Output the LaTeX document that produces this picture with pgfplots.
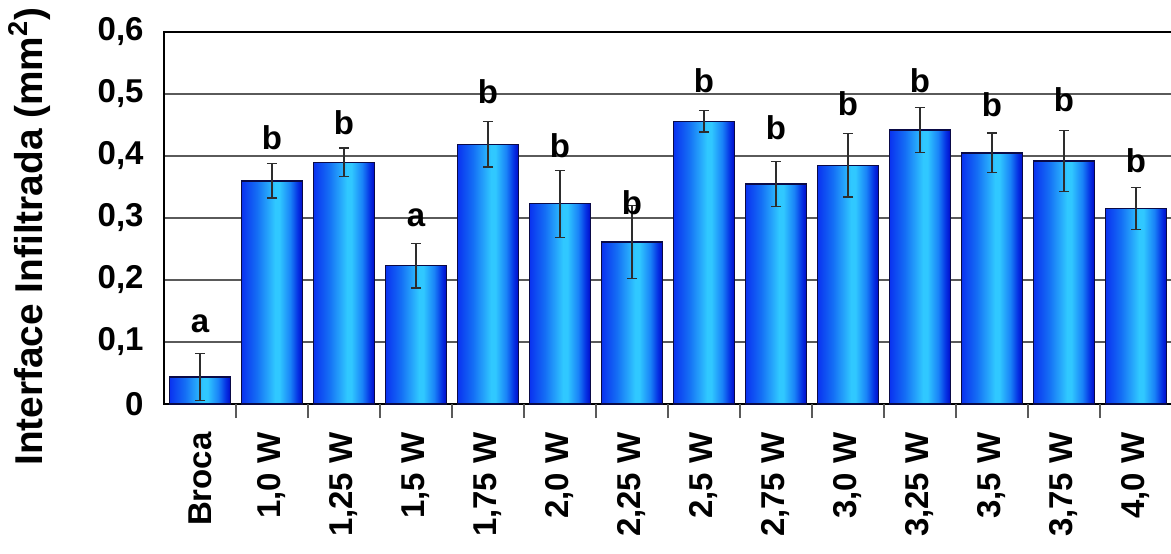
\documentclass[border=0pt]{standalone}
\usepackage{pgfplots}
\usepackage{pgfplotstable}
\pgfplotsset{compat=1.18}
\usepackage{fontspec}
\setmainfont{Liberation Sans}

\definecolor{barEdge}{RGB}{10,10,70}
\definecolor{gridc}{RGB}{90,90,90}
\definecolor{errc}{RGB}{45,45,45}
\definecolor{sA}{RGB}{10,50,240}
\definecolor{sB}{RGB}{20,110,245}
\definecolor{sC}{RGB}{48,200,255}
\definecolor{sD}{RGB}{25,130,248}
\definecolor{sE}{RGB}{5,50,228}
\definecolor{sF}{RGB}{0,10,200}

% horizontal gradient of a bar; the bar spans 25bp..75bp of the shading
\pgfdeclarehorizontalshading{barshade}{100bp}{%
  color(0bp)=(sA); color(25bp)=(sA); color(37.5bp)=(sB);
  color(52.5bp)=(sC); color(56bp)=(sC); color(65bp)=(sD);
  color(71bp)=(sE); color(75bp)=(sF); color(100bp)=(sF)}

% x  mean  sd  letter-y  letter
\pgfplotstableread{
x  y      err    ly     lab
0  0.0435 0.038  0.115  a
1  0.360  0.028  0.411  b
2  0.390  0.023  0.434  b
3  0.223  0.036  0.287  a
4  0.419  0.037  0.485  b
5  0.323  0.054  0.398  b
6  0.261  0.059  0.306  b
7  0.456  0.017  0.503  b
8  0.355  0.036  0.426  b
9  0.385  0.051  0.466  b
10 0.442  0.036  0.502  b
11 0.405  0.032  0.463  b
12 0.392  0.049  0.471  b
13 0.315  0.034  0.373  b
}\data

\begin{document}
\begin{tikzpicture}
\begin{axis}[
  scale only axis,
  width=504pt, height=186pt,
  xmin=-0.5, xmax=13.5,
  ymin=0, ymax=0.6,
  axis line style={black, line width=0.6pt},
  tick pos=left,
  xtick={0,...,13},
  xticklabels={Broca,{1,0 W},{1,25 W},{1,5 W},{1,75 W},{2,0 W},{2,25 W},{2,5 W},{2,75 W},{3,0 W},{3,25 W},{3,5 W},{3,75 W},{4,0 W}},
  x tick label style={rotate=90, anchor=east, inner sep=0pt},
  xticklabel shift=14pt,
  ytick={0,0.1,0.2,0.3,0.4,0.5,0.6},
  yticklabels={0,{0,1},{0,2},{0,3},{0,4},{0,5},{0,6}},
  y tick label style={anchor=east, inner sep=0pt},
  yticklabel shift=10pt,
  major tick length=0pt,
  ticklabel style={font=\fontsize{16.5}{19}\selectfont\bfseries},
  extra x ticks={0.5,1.5,...,12.5},
  extra x tick labels={},
  extra x tick style={
    major tick length=7pt,
    tick align=outside,
    tick style={gridc, line width=0.7pt},
    grid=none},
  ymajorgrids,
  major grid style={gridc, line width=0.6pt},
  ylabel={Interface Infiltrada (mm\textsuperscript{2})},
  ylabel style={font=\fontsize{19.4}{23}\selectfont\bfseries,
    at={(axis description cs:-0.133,0.45)}, anchor=center},
]
% one plot per bar, so that each bar carries its own horizontal gradient
\pgfplotsinvokeforeach{0,...,13}{
  \addplot[ybar, bar width=30.5pt, draw=barEdge, line width=0.7pt,
    shading=barshade,
    restrict x to domain=#1:#1,
    error bars/.cd, y dir=both, y explicit,
    error bar style={errc, line width=0.7pt},
    error mark options={rotate=90, mark size=2.6pt, errc, line width=0.7pt}]
    table[x=x, y=y, y error=err] {\data};
}
\addplot[only marks, mark=none,
  point meta=explicit symbolic,
  nodes near coords,
  nodes near coords style={anchor=base, inner sep=0pt, black,
    font=\fontsize{16.5}{19}\selectfont\bfseries}]
  table[x=x, y=ly, meta=lab] {\data};
\end{axis}
\pgfresetboundingbox
\path[use as bounding box]
  ([xshift=-82pt, yshift=-74.5pt]current axis.south west)
  rectangle ([xshift=-0.5pt, yshift=16pt]current axis.north east);
\end{tikzpicture}
\end{document}
